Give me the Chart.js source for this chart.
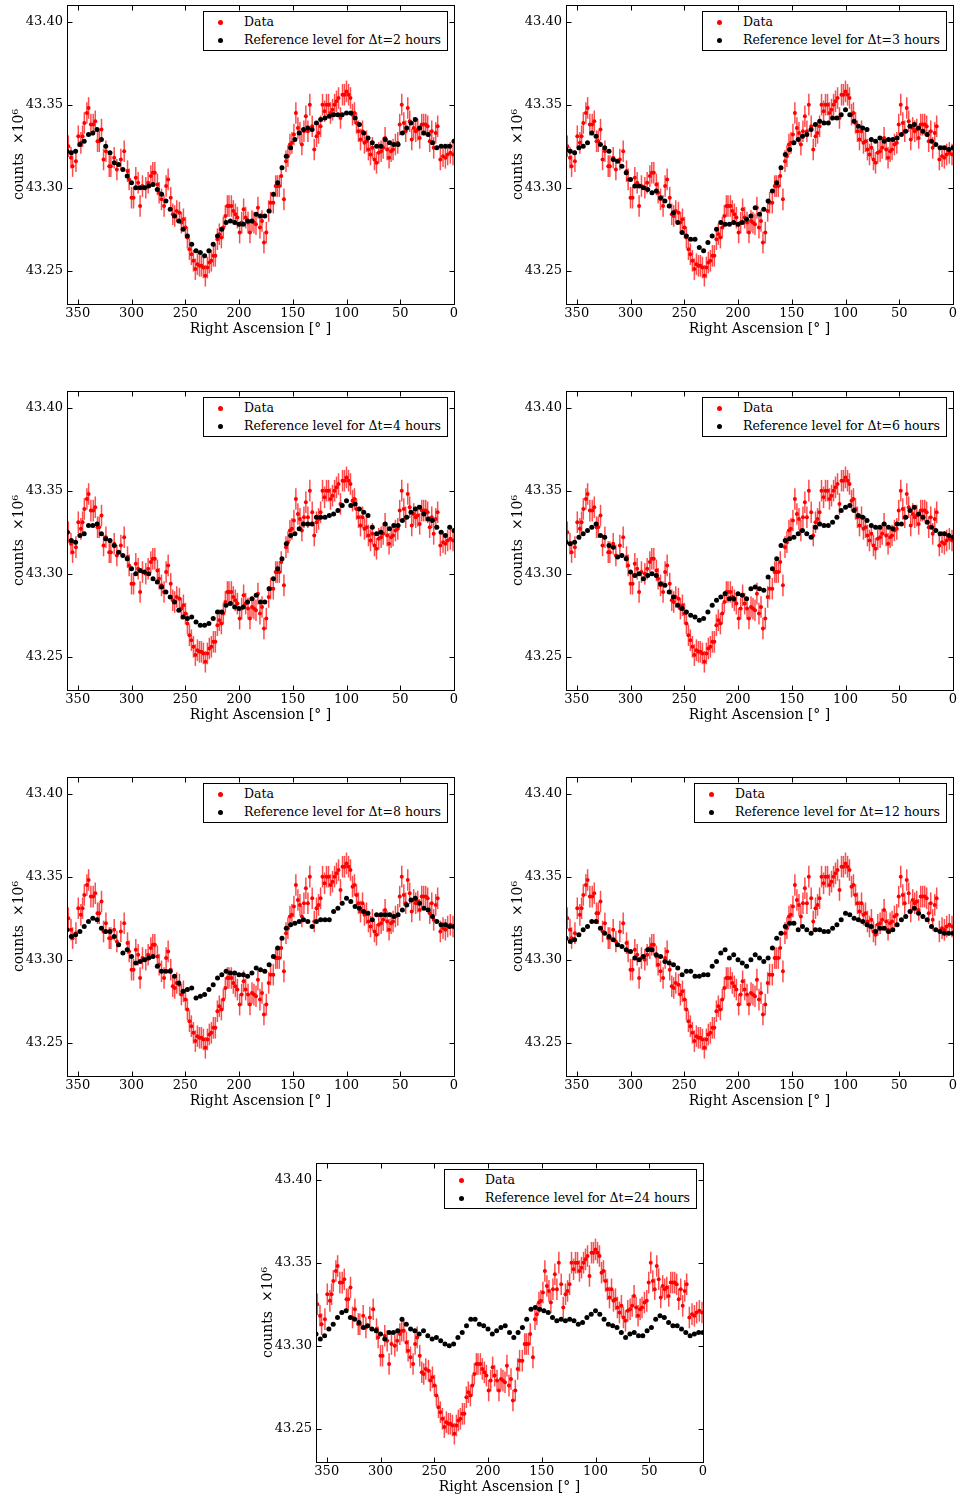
<!DOCTYPE html>
<html>
<head>
<meta charset="utf-8">
<script src="https://cdn.jsdelivr.net/npm/chart.js@4/dist/chart.umd.min.js"></script>
<style>
  body { margin: 0; background: #fff; width: 960px; height: 1499px; position: relative; overflow: hidden; font-family: 'DejaVu Serif', serif; }
  .panel { position: absolute; width: 461px; height: 340px; }
  .legend { position: absolute; top: 11px; right: 13px; background: #fff; border: 1px solid #000;
            padding: 1px 6px 1px 40px; font-size: 12.5px; line-height: 18px; white-space: nowrap; color: #000; }
  .legend div { position: relative; }
  .legend span { position: absolute; left: -26px; top: 7px; width: 5px; height: 5px; border-radius: 50%; }
</style>
</head>
<body>
<script>
// right ascension of each data point (deg)
const raData = [358.8, 356.3, 354.8, 351.7, 349.5, 347.1, 345.5, 343.9, 341.5, 339.9,
  337.8, 335.6, 333.7, 331.6, 330.0, 327.9, 326.0, 323.8, 320.7, 319.2,
  316.1, 313.6, 309.9, 306.8, 303.7, 302.2, 300.0, 298.1, 296.0, 293.8,
  292.0, 289.8, 286.7, 284.5, 282.0, 280.2, 278.3, 275.9, 274.3, 272.1,
  269.7, 267.8, 265.9, 263.5, 261.6, 259.8, 257.9, 255.4, 253.6, 251.7,
  249.8, 248.0, 246.1, 244.3, 242.4, 240.6, 238.7, 236.8, 235.0, 233.1,
  231.3, 229.4, 227.6, 225.7, 223.8, 222.0, 220.1, 218.3, 216.4, 214.6,
  212.7, 210.8, 209.3, 207.1, 205.3, 203.4, 201.5, 199.4, 197.5, 195.7,
  193.8, 191.6, 189.8, 187.9, 186.1, 184.2, 182.4, 180.5, 178.6, 176.8,
  174.6, 172.4, 170.6, 168.1, 165.9, 164.4, 162.5, 160.7, 158.2, 156.3,
  154.5, 152.6, 150.8, 148.9, 147.1, 145.2, 143.3, 141.5, 139.6, 137.8,
  135.9, 134.1, 131.9, 130.0, 127.9, 126.0, 124.1, 122.3, 120.4, 118.6,
  116.7, 114.9, 113.0, 111.1, 109.3, 107.4, 105.6, 103.7, 101.9, 100.0,
  98.1, 96.3, 94.4, 92.6, 90.7, 88.9, 87.0, 85.1, 83.3, 81.4,
  79.6, 77.7, 75.9, 74.0, 72.1, 70.0, 67.8, 65.9, 64.1, 62.2,
  60.4, 58.5, 56.7, 54.5, 52.3, 50.5, 48.6, 46.7, 44.9, 43.0,
  41.2, 39.3, 37.5, 35.6, 33.7, 31.9, 30.0, 28.2, 26.3, 24.5,
  22.6, 20.7, 18.9, 17.0, 15.2, 12.7, 10.2, 8.0, 5.9, 3.4,
  0.9];

// measured counts (x10^6)
const countsData = [43.325, 43.318, 43.313, 43.316, 43.331, 43.327, 43.331, 43.339, 43.345, 43.348,
  43.338, 43.338, 43.340, 43.328, 43.328, 43.335, 43.317, 43.322, 43.313, 43.313,
  43.318, 43.311, 43.317, 43.322, 43.310, 43.305, 43.294, 43.294, 43.306, 43.303,
  43.289, 43.301, 43.300, 43.303, 43.307, 43.309, 43.309, 43.302, 43.297, 43.293,
  43.289, 43.301, 43.305, 43.294, 43.284, 43.283, 43.286, 43.285, 43.279, 43.281,
  43.276, 43.270, 43.263, 43.260, 43.256, 43.251, 43.254, 43.253, 43.253, 43.252,
  43.247, 43.252, 43.255, 43.256, 43.259, 43.259, 43.269, 43.272, 43.270, 43.276,
  43.283, 43.289, 43.289, 43.289, 43.286, 43.284, 43.282, 43.273, 43.279, 43.287,
  43.282, 43.279, 43.273, 43.280, 43.279, 43.278, 43.288, 43.276, 43.280, 43.267,
  43.273, 43.286, 43.291, 43.291, 43.301, 43.301, 43.301, 43.307, 43.293, 43.316,
  43.319, 43.326, 43.327, 43.332, 43.345, 43.336, 43.333, 43.326, 43.334, 43.343,
  43.334, 43.350, 43.337, 43.323, 43.331, 43.333, 43.337, 43.350, 43.346, 43.350,
  43.350, 43.345, 43.347, 43.350, 43.352, 43.354, 43.342, 43.356, 43.356, 43.358,
  43.356, 43.354, 43.344, 43.345, 43.339, 43.334, 43.329, 43.334, 43.327, 43.328,
  43.323, 43.320, 43.324, 43.317, 43.315, 43.321, 43.322, 43.324, 43.330, 43.323,
  43.318, 43.322, 43.323, 43.326, 43.327, 43.338, 43.350, 43.339, 43.334, 43.348,
  43.340, 43.329, 43.336, 43.334, 43.335, 43.330, 43.338, 43.338, 43.338, 43.337,
  43.328, 43.334, 43.324, 43.333, 43.337, 43.317, 43.319, 43.318, 43.320, 43.321,
  43.320];

const countsError = 0.0065;

// right ascension of the reference level points (deg)
const raRef = [360, 356, 352, 348, 344, 340, 336, 332, 328, 324,
  320, 316, 312, 308, 304, 300, 296, 292, 288, 284,
  280, 276, 272, 268, 264, 260, 256, 252, 248, 244,
  240, 236, 232, 228, 224, 220, 216, 212, 208, 204,
  200, 196, 192, 188, 184, 180, 176, 172, 168, 164,
  160, 156, 152, 148, 144, 140, 136, 132, 128, 124,
  120, 116, 112, 108, 104, 100, 96, 92, 88, 84,
  80, 76, 72, 68, 64, 60, 56, 52, 48, 44,
  40, 36, 32, 28, 24, 20, 16, 12, 8, 4, 0];

const refDt2 = [43.322, 43.321, 43.322, 43.326, 43.328, 43.332, 43.333, 43.335, 43.329, 43.325,
  43.321, 43.315, 43.314, 43.311, 43.307, 43.303, 43.300, 43.300, 43.300, 43.301,
  43.302, 43.299, 43.296, 43.292, 43.287, 43.283, 43.280, 43.275, 43.271, 43.266,
  43.262, 43.261, 43.259, 43.262, 43.266, 43.271, 43.275, 43.279, 43.280, 43.279,
  43.278, 43.278, 43.280, 43.280, 43.284, 43.283, 43.283, 43.286, 43.296, 43.303,
  43.312, 43.319, 43.324, 43.329, 43.333, 43.335, 43.336, 43.335, 43.339, 43.341,
  43.342, 43.343, 43.344, 43.344, 43.344, 43.345, 43.345, 43.342, 43.338, 43.333,
  43.330, 43.327, 43.325, 43.325, 43.329, 43.327, 43.326, 43.326, 43.333, 43.336,
  43.339, 43.341, 43.336, 43.333, 43.332, 43.327, 43.324, 43.325, 43.325, 43.325, 43.328];

const refDt3 = [43.323, 43.322, 43.321, 43.324, 43.325, 43.327, 43.333, 43.331, 43.326, 43.324,
  43.322, 43.317, 43.316, 43.313, 43.309, 43.305, 43.301, 43.301, 43.300, 43.299,
  43.297, 43.298, 43.294, 43.292, 43.289, 43.285, 43.279, 43.273, 43.271, 43.269,
  43.269, 43.264, 43.262, 43.267, 43.271, 43.275, 43.279, 43.278, 43.278, 43.279,
  43.278, 43.279, 43.281, 43.283, 43.288, 43.284, 43.287, 43.292, 43.298, 43.303,
  43.312, 43.320, 43.323, 43.327, 43.329, 43.331, 43.332, 43.335, 43.338, 43.340,
  43.339, 43.339, 43.342, 43.342, 43.344, 43.347, 43.344, 43.340, 43.337, 43.336,
  43.335, 43.329, 43.328, 43.330, 43.328, 43.329, 43.329, 43.330, 43.332, 43.334,
  43.337, 43.338, 43.336, 43.334, 43.332, 43.328, 43.326, 43.324, 43.324, 43.323, 43.324];

const refDt4 = [43.325, 43.320, 43.319, 43.323, 43.324, 43.329, 43.329, 43.330, 43.324, 43.321,
  43.320, 43.317, 43.313, 43.311, 43.309, 43.303, 43.300, 43.302, 43.301, 43.300,
  43.297, 43.295, 43.292, 43.289, 43.286, 43.283, 43.278, 43.274, 43.273, 43.274,
  43.271, 43.269, 43.269, 43.270, 43.273, 43.277, 43.277, 43.281, 43.282, 43.280,
  43.279, 43.280, 43.283, 43.285, 43.287, 43.283, 43.283, 43.291, 43.297, 43.303,
  43.309, 43.318, 43.323, 43.324, 43.327, 43.330, 43.330, 43.330, 43.334, 43.334,
  43.334, 43.335, 43.336, 43.338, 43.341, 43.344, 43.341, 43.342, 43.339, 43.337,
  43.335, 43.328, 43.324, 43.325, 43.330, 43.327, 43.329, 43.329, 43.332, 43.334,
  43.337, 43.339, 43.340, 43.336, 43.333, 43.332, 43.328, 43.325, 43.323, 43.328, 43.326];

const refDt6 = [43.319, 43.318, 43.319, 43.322, 43.324, 43.326, 43.328, 43.330, 43.323, 43.322,
  43.317, 43.316, 43.310, 43.311, 43.309, 43.301, 43.299, 43.300, 43.297, 43.299,
  43.300, 43.299, 43.294, 43.293, 43.289, 43.286, 43.281, 43.279, 43.277, 43.275,
  43.274, 43.272, 43.273, 43.277, 43.281, 43.284, 43.286, 43.288, 43.285, 43.285,
  43.288, 43.287, 43.285, 43.291, 43.292, 43.291, 43.290, 43.298, 43.303, 43.309,
  43.317, 43.320, 43.321, 43.322, 43.324, 43.326, 43.324, 43.322, 43.328, 43.330,
  43.329, 43.329, 43.331, 43.334, 43.338, 43.340, 43.341, 43.338, 43.335, 43.334,
  43.332, 43.329, 43.328, 43.328, 43.330, 43.328, 43.327, 43.330, 43.330, 43.334,
  43.338, 43.340, 43.336, 43.334, 43.331, 43.328, 43.326, 43.324, 43.324, 43.323, 43.322];

const refDt8 = [43.318, 43.314, 43.315, 43.317, 43.320, 43.323, 43.325, 43.324, 43.319, 43.317,
  43.317, 43.314, 43.309, 43.304, 43.306, 43.302, 43.298, 43.299, 43.300, 43.301,
  43.302, 43.296, 43.293, 43.293, 43.293, 43.290, 43.286, 43.281, 43.282, 43.283,
  43.277, 43.278, 43.279, 43.282, 43.285, 43.289, 43.291, 43.293, 43.292, 43.292,
  43.291, 43.291, 43.290, 43.292, 43.295, 43.294, 43.293, 43.297, 43.302, 43.307,
  43.313, 43.319, 43.321, 43.322, 43.323, 43.324, 43.323, 43.320, 43.323, 43.324,
  43.324, 43.324, 43.329, 43.331, 43.334, 43.337, 43.335, 43.332, 43.331, 43.329,
  43.328, 43.324, 43.327, 43.327, 43.327, 43.327, 43.326, 43.327, 43.330, 43.333,
  43.336, 43.337, 43.334, 43.331, 43.330, 43.326, 43.323, 43.321, 43.321, 43.320, 43.320];

const refDt12 = [43.313, 43.311, 43.312, 43.315, 43.318, 43.320, 43.323, 43.323, 43.319, 43.316,
  43.314, 43.312, 43.309, 43.308, 43.306, 43.305, 43.301, 43.300, 43.302, 43.306,
  43.306, 43.303, 43.302, 43.299, 43.298, 43.297, 43.295, 43.291, 43.293, 43.293,
  43.290, 43.290, 43.291, 43.291, 43.296, 43.299, 43.304, 43.306, 43.301, 43.303,
  43.300, 43.298, 43.296, 43.300, 43.303, 43.301, 43.299, 43.301, 43.307, 43.313,
  43.316, 43.320, 43.322, 43.322, 43.318, 43.320, 43.318, 43.316, 43.318, 43.318,
  43.317, 43.317, 43.319, 43.321, 43.324, 43.328, 43.327, 43.325, 43.324, 43.323,
  43.321, 43.320, 43.317, 43.319, 43.319, 43.317, 43.318, 43.321, 43.324, 43.326,
  43.329, 43.331, 43.328, 43.326, 43.324, 43.320, 43.318, 43.317, 43.316, 43.316, 43.316];

const refDt24 = [43.307, 43.304, 43.306, 43.310, 43.313, 43.317, 43.320, 43.321, 43.317, 43.316,
  43.314, 43.311, 43.312, 43.310, 43.309, 43.307, 43.304, 43.308, 43.308, 43.309,
  43.316, 43.313, 43.310, 43.309, 43.307, 43.309, 43.306, 43.304, 43.305, 43.303,
  43.301, 43.300, 43.301, 43.305, 43.308, 43.312, 43.316, 43.316, 43.313, 43.312,
  43.310, 43.307, 43.309, 43.311, 43.312, 43.308, 43.305, 43.308, 43.311, 43.316,
  43.322, 43.323, 43.322, 43.321, 43.320, 43.317, 43.315, 43.316, 43.315, 43.316,
  43.315, 43.313, 43.314, 43.317, 43.319, 43.321, 43.319, 43.316, 43.313, 43.312,
  43.311, 43.308, 43.305, 43.307, 43.308, 43.306, 43.306, 43.309, 43.311, 43.316,
  43.318, 43.317, 43.314, 43.312, 43.312, 43.310, 43.308, 43.306, 43.307, 43.308, 43.308];

const dtHours = ['2', '3', '4', '6', '8', '12', '24'];
const refLevels = [refDt2, refDt3, refDt4, refDt6, refDt8, refDt12, refDt24];

const xTickValues = [350, 300, 250, 200, 150, 100, 50, 0];
const yTickValues = [43.25, 43.30, 43.35, 43.40];

Chart.defaults.font.family = "'DejaVu Serif', serif";
Chart.defaults.font.size = 13;
Chart.defaults.color = '#000';

// error bars under the points, then the frame and the inward ticks (matplotlib look)
const errorAndFrame = {
  id: 'errorAndFrame',
  beforeDatasetsDraw(chart) {
    const ctx = chart.ctx, xs = chart.scales.x, ys = chart.scales.y, a = chart.chartArea;
    ctx.save();
    ctx.beginPath();
    ctx.rect(a.left, a.top, a.right - a.left, a.bottom - a.top);
    ctx.clip();
    ctx.strokeStyle = 'rgba(255, 0, 0, 0.7)';
    ctx.lineWidth = 1.5;
    chart.data.datasets.forEach(ds => {
      if (!ds.errorBars) return;
      ds.data.forEach(p => {
        const px = xs.getPixelForValue(p.x);
        ctx.beginPath();
        ctx.moveTo(px, ys.getPixelForValue(p.y - countsError));
        ctx.lineTo(px, ys.getPixelForValue(p.y + countsError));
        ctx.stroke();
      });
    });
    ctx.restore();
  },
  afterDraw(chart) {
    const ctx = chart.ctx, xs = chart.scales.x, ys = chart.scales.y, a = chart.chartArea;
    const L = Math.round(a.left) + 0.5, R = Math.round(a.right) + 0.5;
    const T = Math.round(a.top) + 0.5, B = Math.round(a.bottom) + 0.5;
    ctx.save();
    ctx.strokeStyle = '#000';
    ctx.lineWidth = 1;
    ctx.strokeRect(L, T, R - L, B - T);
    ctx.beginPath();
    xs.ticks.forEach(t => {
      const px = Math.round(xs.getPixelForValue(t.value)) + 0.5;
      ctx.moveTo(px, B); ctx.lineTo(px, B - 5);
      ctx.moveTo(px, T); ctx.lineTo(px, T + 5);
    });
    ys.ticks.forEach(t => {
      const py = Math.round(ys.getPixelForValue(t.value)) + 0.5;
      ctx.moveTo(L, py); ctx.lineTo(L + 5, py);
      ctx.moveTo(R, py); ctx.lineTo(R - 5, py);
    });
    ctx.stroke();
    ctx.restore();
  }
};

function makePanel(left, top, dt, refValues) {
  const box = document.createElement('div');
  box.className = 'panel';
  box.style.left = left + 'px';
  box.style.top = top + 'px';
  const canvas = document.createElement('canvas');
  canvas.width = 461;
  canvas.height = 340;
  box.appendChild(canvas);

  const refLabel = 'Reference level for \u0394t=' + dt + ' hours';
  const legend = document.createElement('div');
  legend.className = 'legend';
  legend.innerHTML = '<div><span style="background:#ff0000"></span>Data</div>' +
                     '<div><span style="background:#000"></span>' + refLabel + '</div>';
  box.appendChild(legend);
  document.body.appendChild(box);

  new Chart(canvas, {
    type: 'scatter',
    data: {
      datasets: [{
        label: refLabel,
        data: raRef.map((ra, i) => ({ x: ra, y: refValues[i] })),
        backgroundColor: '#000',
        borderWidth: 0,
        pointRadius: 2.5,
        order: 0
      }, {
        label: 'Data',
        data: raData.map((ra, i) => ({ x: ra, y: countsData[i] })),
        backgroundColor: '#ff0000',
        borderWidth: 0,
        pointRadius: 2,
        order: 1,
        errorBars: true
      }]
    },
    options: {
      responsive: false,
      animation: false,
      devicePixelRatio: 1,
      layout: { padding: { top: 5, right: 7, left: 0, bottom: 0 } },
      plugins: { legend: { display: false }, tooltip: { enabled: false } },
      scales: {
        x: {
          type: 'linear', min: 0, max: 360, reverse: true,
          afterBuildTicks: s => { s.ticks = xTickValues.map(v => ({ value: v })); },
          afterFit: s => { s.height = 36; s.paddingLeft = 0; s.paddingRight = 0; },
          grid: { display: false, drawTicks: false },
          border: { display: false },
          ticks: { padding: 2, autoSkip: false, maxRotation: 0 },
          title: { display: true, text: 'Right Ascension [° ]', font: { size: 14 }, padding: { top: 0, bottom: 2 } }
        },
        y: {
          type: 'linear', min: 43.23, max: 43.41,
          afterBuildTicks: s => { s.ticks = yTickValues.map(v => ({ value: v })); },
          afterFit: s => { s.width = 67; s.paddingTop = 0; s.paddingBottom = 0; },
          grid: { display: false, drawTicks: false },
          border: { display: false },
          ticks: { padding: 4, callback: v => v.toFixed(2) },
          title: { display: true, text: 'counts  \u00d710\u2076', font: { size: 14 }, padding: { top: 11, bottom: 0 } }
        }
      }
    },
    plugins: [errorAndFrame]
  });
}

const panelSpots = [[0, 0], [499, 0], [0, 386], [499, 386], [0, 772], [499, 772], [249, 1158]];
panelSpots.forEach((spot, i) => makePanel(spot[0], spot[1], dtHours[i], refLevels[i]));
</script>
</body>
</html>
